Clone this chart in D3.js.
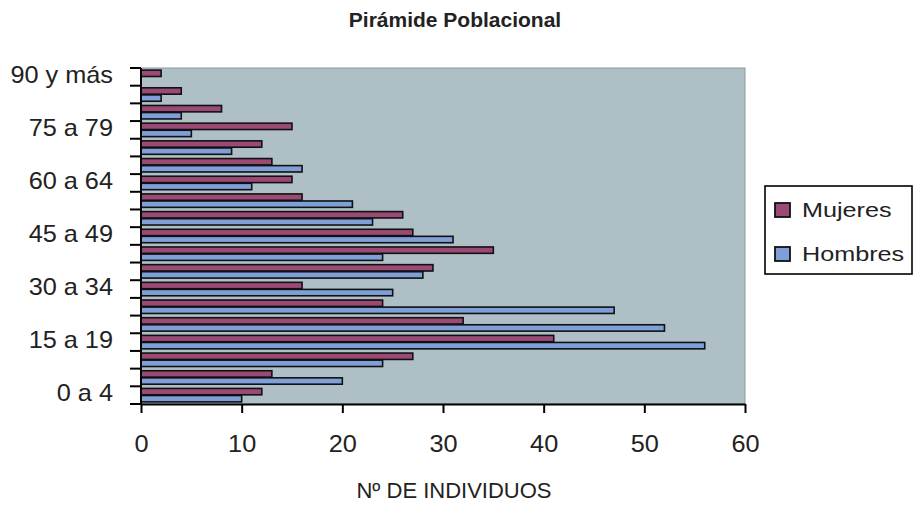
<!DOCTYPE html>
<html><head><meta charset="utf-8">
<script src="https://cdn.jsdelivr.net/npm/d3@7"></script>
<style>body{margin:0;background:#fff;}svg{display:block;font-family:"Liberation Sans",Arial,sans-serif;}</style>
</head><body><svg id="c" width="915" height="505"></svg>
<script>
const categories = ["0 a 4","5 a 9","10 a 14","15 a 19","20 a 24","25 a 29","30 a 34","35 a 39","40 a 44","45 a 49","50 a 54","55 a 59","60 a 64","65 a 69","70 a 74","75 a 79","80 a 84","85 a 89","90 y más"];
const mujeres = [12,13,27,41,32,24,16,29,35,27,26,16,15,13,12,15,8,4,2];
const hombres = [10,20,24,56,52,47,25,28,24,31,23,21,11,16,9,5,4,2,0];
const shownLabels = ["0 a 4","15 a 19","30 a 34","45 a 49","60 a 64","75 a 79","90 y más"];
const xTicks = [0,10,20,30,40,50,60];
const seriesNames = ["Mujeres","Hombres"];
const colors = {Mujeres:"#9b4a76", Hombres:"#7f9fd8"};

const svg = d3.select("#c");
const L=141,R=745,T=68,B=404;
const x = d3.scaleLinear().domain([0,60]).range([L,R]);
const y = d3.scaleBand().domain(categories).range([B,T]).paddingInner(0).paddingOuter(0);
const sub = d3.scaleBand().domain(seriesNames).range([0,y.bandwidth()]).paddingInner(0.1).paddingOuter(0.3);

svg.append("rect").attr("x",L).attr("y",T).attr("width",R-L).attr("height",B-T)
  .attr("fill","#aec0c5").attr("stroke","#8a9a9e").attr("stroke-width",1);

const data = categories.map((c,i)=>({c, Mujeres:mujeres[i], Hombres:hombres[i]}));
const g = svg.append("g");
seriesNames.forEach(s=>{
  g.selectAll(null).data(data.filter(d=>d[s]>0)).enter().append("rect")
    .attr("x",x(0))
    .attr("y",d=>y(d.c)+sub(s))
    .attr("width",d=>x(d[s])-x(0))
    .attr("height",sub.bandwidth())
    .attr("fill",colors[s]).attr("stroke","#111").attr("stroke-width",1.6);
});

// x axis
const xa = svg.append("g").attr("transform",`translate(0,${B})`)
  .call(d3.axisBottom(x).tickValues(xTicks).tickSize(9).tickPadding(0).tickSizeOuter(0));
xa.select(".domain").attr("stroke","#000").attr("stroke-width",2);
xa.selectAll(".tick line").attr("stroke","#000").attr("stroke-width",2);
xa.selectAll(".tick text").attr("y",0).attr("dy",0)
  .attr("transform","translate(0,48) scale(1.1,1)")
  .attr("font-size",23).attr("fill","#222").attr("font-family","Liberation Sans, Arial, sans-serif");

// y axis: ticks at band boundaries
const ya = svg.append("g");
ya.append("line").attr("x1",L).attr("x2",L).attr("y1",T).attr("y2",B).attr("stroke","#000").attr("stroke-width",2);
const bounds = d3.range(categories.length+1).map(i=> i<categories.length ? y(categories[i])+y.bandwidth() : T);
ya.selectAll(null).data(bounds).enter().append("line")
  .attr("x1",L-11).attr("x2",L).attr("y1",d=>d).attr("y2",d=>d)
  .attr("stroke","#000").attr("stroke-width",2);
ya.selectAll(null).data(shownLabels).enter().append("text")
  .attr("transform",d=>`translate(113,${y(d)+y.bandwidth()/2+6}) scale(1.1,1)`)
  .attr("text-anchor","end").attr("font-size",23).attr("fill","#222").text(d=>d);

// titles
svg.append("text").attr("x",455).attr("y",27).attr("text-anchor","middle")
  .attr("font-size",21).attr("font-weight","bold").attr("fill","#222").text("Pirámide Poblacional");
svg.append("text").attr("x",454).attr("y",498).attr("text-anchor","middle")
  .attr("font-size",22).attr("fill","#222").text("Nº DE INDIVIDUOS");

// legend
const lg = svg.append("g").attr("transform","translate(765,186)");
lg.append("rect").attr("width",147).attr("height",88).attr("fill","#fff").attr("stroke","#000").attr("stroke-width",1.6);
seriesNames.forEach((s,i)=>{
  const yy = 24 + i*44;
  lg.append("rect").attr("x",10).attr("y",yy-7).attr("width",15).attr("height",14)
    .attr("fill",colors[s]).attr("stroke","#111").attr("stroke-width",1.8);
  lg.append("text").attr("transform",`translate(37,${yy+7}) scale(1.2,1)`)
    .attr("font-size",21).attr("fill","#222").text(s);
});
</script></body></html>
